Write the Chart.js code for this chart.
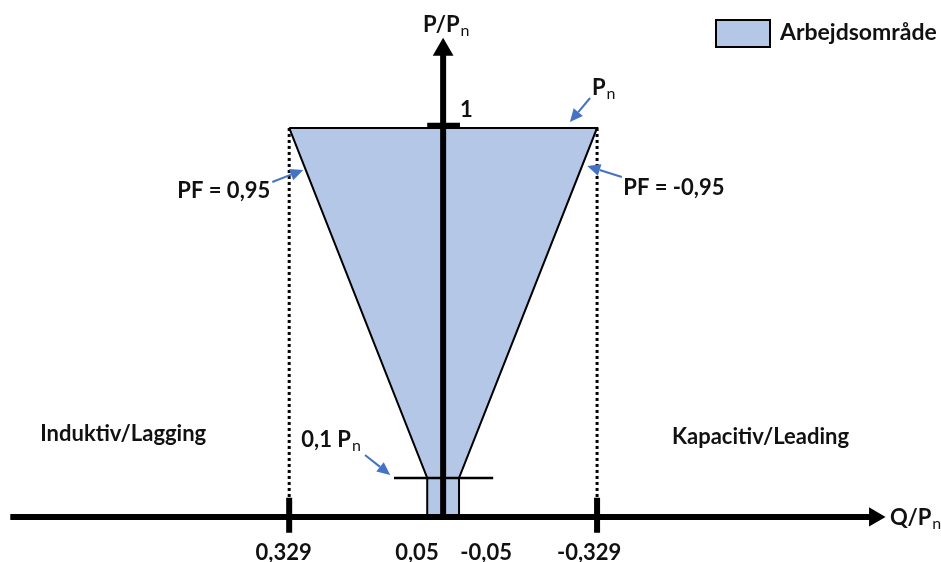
<!DOCTYPE html>
<html lang="da">
<head>
    <meta charset="UTF-8">
    <title>Arbejdsområde P/Q</title>
    <script src="https://cdn.jsdelivr.net/npm/chart.js"></script>
    <style>
        body {
            margin: 0;
            background: #ffffff;
        }
        .wrap {
            width: 941px;
            height: 562px;
            position: relative;
        }
    </style>
</head>
<body>
    <div class="wrap"><canvas id="pq"></canvas></div>

    <script>
        // Values: Q/Pn horizontally (positive to the left), P/Pn vertically
        const areaQ = [0.329, 0.034, 0.034, -0.034, -0.034, -0.329, 0.329];
        const areaP = [1, 0.1, 0, 0, 0.1, 1, 1];
        const limitQ = [0.329, -0.329];          // PF = 0,95 / -0,95 at P = Pn
        const minLineQ = [0.105, -0.107];        // the 0,1 Pn line
        const minLineP = 0.1;
        const tickLabels = ['0,329', '0,05', '-0,05', '-0,329'];
        const tickLabelQ = [0.341, 0.056, -0.092, -0.312];

        const FONT = 'Lato, "Open Sans", sans-serif';
        const BLUE = '#4472C4';
        const FILL = '#B4C7E7';

        function pts(qs, ps) {
            return qs.map((q, i) => ({ x: q, y: ps[i] }));
        }

        function seg(q1, p1, q2, p2, opts) {
            return Object.assign({
                data: [{ x: q1, y: p1 }, { x: q2, y: p2 }],
                showLine: true,
                borderColor: '#000',
                borderWidth: 2,
                pointRadius: 0,
                fill: false,
                clip: false,
                order: 1
            }, opts || {});
        }

        const datasets = [
            {
                label: 'Arbejdsområde',
                data: pts(areaQ, areaP),
                showLine: true,
                fill: 'shape',
                backgroundColor: FILL,
                borderColor: '#000',
                borderWidth: 2,
                pointRadius: 0,
                clip: false,
                order: 5
            },
            // dotted guides from the PF limits down to the axis
            seg(limitQ[0], 1, limitQ[0], 0.05, { borderWidth: 3, borderDash: [3, 3], order: 4 }),
            seg(limitQ[1], 1, limitQ[1], 0.05, { borderWidth: 3, borderDash: [3, 3], order: 4 }),
            // 0,1 Pn line
            seg(minLineQ[0], minLineP, minLineQ[1], minLineP, { borderWidth: 2.5 }),
            // "1" mark on the vertical axis
            seg(0.034, 1.007, -0.036, 1.007, { borderWidth: 5 }),
            // ticks on the Q axis
            seg(limitQ[0], 0.049, limitQ[0], -0.041, { borderWidth: 6, order: 0 }),
            seg(limitQ[1], 0.049, limitQ[1], -0.041, { borderWidth: 6, order: 0 }),
            // Q axis with arrow head
            seg(0.925, 0, -0.922, 0, {
                borderWidth: 6, order: 0,
                pointRadius: [0, 11], pointStyle: 'triangle', pointRotation: 90,
                pointBackgroundColor: '#000', pointBorderWidth: 0
            }),
            // P axis with arrow head
            seg(0, 0, 0, 1.201, {
                borderWidth: 6, order: 0,
                pointRadius: [0, 12], pointStyle: 'triangle', pointRotation: 0,
                pointBackgroundColor: '#000', pointBorderWidth: 0
            })
        ];

        // blue callout arrows, tail -> tip
        const callouts = [
            { from: [0.365, 0.861], to: [0.299, 0.892] },
            { from: [-0.382, 0.874], to: [-0.308, 0.902] },
            { from: [-0.314, 1.077], to: [-0.271, 1.015] },
            { from: [0.167, 0.159], to: [0.113, 0.108] }
        ];

        // text placed in data coordinates, left edge / baseline
        const texts = [
            { t: 'P/P', s: 'n', q: 0.043, p: 1.247 },
            { t: '1', q: -0.036, p: 1.028 },
            { t: 'P', s: 'n', q: -0.318, p: 1.085 },
            { t: 'PF = 0,95', q: 0.568, p: 0.820 },
            { t: 'PF = -0,95', q: -0.385, p: 0.828 },
            { t: 'Induktiv/Lagging', q: 0.861, p: 0.195 },
            { t: 'Kapacitiv/Leading', q: -0.489, p: 0.188 },
            { t: '0,1 P', s: 'n', q: 0.303, p: 0.180 },
            { t: 'Q/P', s: 'n', q: -0.955, p: -0.021 }
        ];

        const diagramText = {
            id: 'diagramText',
            afterDatasetsDraw(chart) {
                const { ctx, scales: { x, y }, chartArea } = chart;
                ctx.save();

                // callout arrows
                ctx.strokeStyle = BLUE;
                ctx.fillStyle = BLUE;
                ctx.lineWidth = 2;
                callouts.forEach(c => {
                    const x1 = x.getPixelForValue(c.from[0]), y1 = y.getPixelForValue(c.from[1]);
                    const x2 = x.getPixelForValue(c.to[0]), y2 = y.getPixelForValue(c.to[1]);
                    const a = Math.atan2(y2 - y1, x2 - x1);
                    const len = 13, half = 6;
                    const bx = x2 - Math.cos(a) * len, by = y2 - Math.sin(a) * len;
                    ctx.beginPath();
                    ctx.moveTo(x1, y1);
                    ctx.lineTo(bx, by);
                    ctx.stroke();
                    ctx.beginPath();
                    ctx.moveTo(x2, y2);
                    ctx.lineTo(bx + Math.sin(a) * half, by - Math.cos(a) * half);
                    ctx.lineTo(bx - Math.sin(a) * half, by + Math.cos(a) * half);
                    ctx.closePath();
                    ctx.fill();
                });

                // labels
                ctx.fillStyle = '#111';
                ctx.textBaseline = 'alphabetic';
                ctx.textAlign = 'left';
                texts.forEach(l => {
                    const px = x.getPixelForValue(l.q), py = y.getPixelForValue(l.p);
                    ctx.font = 'bold 22px ' + FONT;
                    ctx.fillText(l.t, px, py);
                    if (l.s) {
                        const w = ctx.measureText(l.t).width;
                        ctx.font = '16px ' + FONT;
                        ctx.fillText(l.s, px + w + 1, py + 4);
                    }
                });

                // tick labels under the Q axis
                ctx.font = 'bold 22px ' + FONT;
                ctx.textAlign = 'center';
                tickLabels.forEach((lab, i) => {
                    ctx.fillText(lab, x.getPixelForValue(tickLabelQ[i]), y.getPixelForValue(-0.11));
                });

                // legend box
                const lx = chartArea.right - 225, ly = chartArea.top + 20;
                ctx.fillStyle = FILL;
                ctx.fillRect(lx, ly, 54, 27);
                ctx.strokeStyle = '#000';
                ctx.lineWidth = 2;
                ctx.strokeRect(lx, ly, 54, 27);
                ctx.fillStyle = '#111';
                ctx.textAlign = 'left';
                ctx.font = 'bold 23px ' + FONT;
                ctx.fillText(datasets[0].label, lx + 64, ly + 20);

                ctx.restore();
            }
        };

        new Chart(document.getElementById('pq'), {
            type: 'scatter',
            data: { datasets: datasets },
            options: {
                responsive: true,
                maintainAspectRatio: false,
                animation: false,
                events: [],
                layout: { padding: 0, autoPadding: false },
                plugins: {
                    legend: { display: false },
                    tooltip: { enabled: false }
                },
                scales: {
                    x: { type: 'linear', reverse: true, min: -1.064, max: 0.947, display: false },
                    y: { type: 'linear', min: -0.116, max: 1.329, display: false }
                }
            },
            plugins: [diagramText]
        });
    </script>
</body>
</html>
